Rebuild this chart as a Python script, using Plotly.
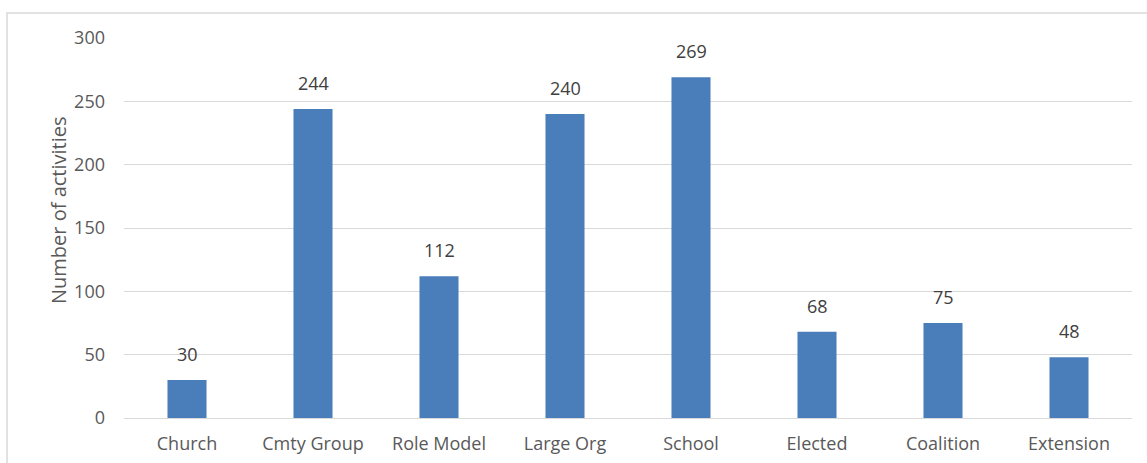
import plotly.graph_objects as go

categories = ["Church", "Cmty Group", "Role Model", "Large Org", "School", "Elected", "Coalition", "Extension"]
values = [30, 244, 112, 240, 269, 68, 75, 48]
y_ticks = [0, 50, 100, 150, 200, 250, 300]
y_title = "Number of activities"

FONT = "Open Sans"
TXT = "#595959"
W, H = 1147, 463
ml, mr, mt, mb = 124, 15, 38, 45
pw, ph = W - ml - mr, H - mt - mb

fig = go.Figure()
fig.add_trace(go.Bar(
    x=categories, y=values,
    marker=dict(color="#4A7EBB", line=dict(width=0)),
    width=0.31,
    hoverinfo="x+y",
))

for c, v in zip(categories, values):
    fig.add_annotation(x=c, y=v, text=str(v), showarrow=False,
                       yanchor="bottom", yshift=12,
                       font=dict(family=FONT, size=18, color="#404040"))

# y-axis title (placed slightly above centre as in the original)
fig.add_annotation(xref="paper", yref="paper", x=(58 - ml) / pw, y=(H - mb - 211) / ph,
                   text=y_title, textangle=-90, showarrow=False,
                   xanchor="center", yanchor="middle",
                   font=dict(family=FONT, size=20, color=TXT))

# outer chart border (left and top visible)
bx0 = (7 - ml) / pw
by1 = 1 + (mt - 13) / ph
fig.add_shape(type="rect", xref="paper", yref="paper",
              x0=bx0, x1=1 + (mr + 20) / pw, y0=-(mb + 20) / ph, y1=by1,
              line=dict(color="#D9D9D9", width=1.5), fillcolor="rgba(0,0,0,0)", layer="below")

fig.update_layout(
    width=W, height=H,
    margin=dict(l=ml, r=mr, t=mt, b=mb, autoexpand=False),
    paper_bgcolor="white", plot_bgcolor="white",
    showlegend=False,
    font=dict(family=FONT, size=18, color=TXT),
    bargap=0.69,
    xaxis=dict(showgrid=False, showline=True, linecolor="#D9D9D9", linewidth=1, automargin=False,
               ticks="", tickfont=dict(family=FONT, size=18, color=TXT), ticklabelstandoff=9),
    yaxis=dict(range=[0, 300], tickvals=y_ticks, showgrid=True, gridcolor="#D9D9D9", gridwidth=1,
               zeroline=False, showline=False, ticks="", automargin=False,
               tickfont=dict(family=FONT, size=18, color=TXT), ticklabelstandoff=18),
)

fig.write_html("out.html")
